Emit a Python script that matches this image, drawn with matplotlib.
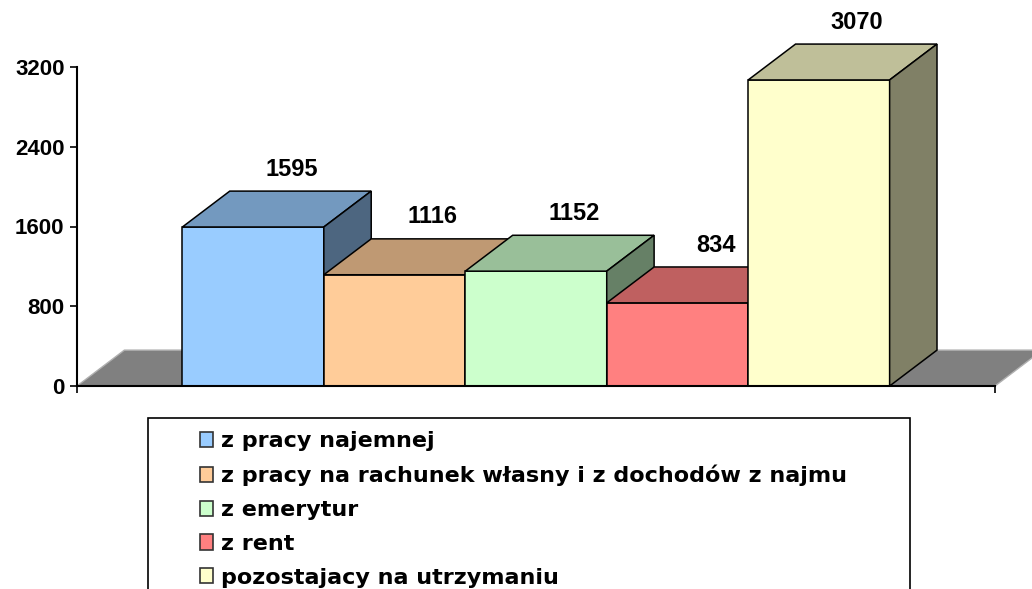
import matplotlib
matplotlib.use('Agg')
import matplotlib.pyplot as plt
from matplotlib.patches import Polygon, Rectangle, Patch

matplotlib.rcParams['font.family'] = ['Liberation Sans', 'DejaVu Sans']
matplotlib.rcParams['font.weight'] = 'bold'

# data
categories = ['z pracy najemnej',
              'z pracy na rachunek własny i z dochodów z najmu',
              'z emerytur',
              'z rent',
              'pozostajacy na utrzymaniu']
values = [1595, 1116, 1152, 834, 3070]
yticks = [0, 800, 1600, 2400, 3200]

front_colors = ['#99CCFF', '#FFCC99', '#CCFFCC', '#FF8080', '#FFFFCC']
top_colors = ['#7399BF', '#BF9973', '#99BF99', '#BF6060', '#BFBF99']
side_colors = ['#4D6680', '#806650', '#668066', '#804040', '#808066']

# 3d look: depth offset in data units
dx, dy = 0.335, 360
xmin, xmax = -1.245, 5.245
lw = 1.1

W, H = 1032, 589
fig = plt.figure(figsize=(W/100, H/100), dpi=100)
fig.patch.set_facecolor('white')
ax = fig.add_axes([77/W, (H-386)/H, (995-77)/W, (386-67)/H])

# floor
floor = Polygon([(xmin, 0), (xmax, 0), (xmax+dx, dy), (xmin+dx, dy)],
                closed=True, facecolor='#808080', edgecolor='none', zorder=1, clip_on=False)
ax.add_patch(floor)
ax.plot([xmin, xmin+dx, xmax+dx], [0, dy, dy], color='#B0B0B0', lw=1.0, zorder=1.5, clip_on=False)
ax.plot([xmax, xmax+dx], [0, dy], color='#B0B0B0', lw=1.0, zorder=1.5, clip_on=False)

for i, v in enumerate(values):
    z = 3 + i
    l, r = i - 0.5, i + 0.5
    ax.bar(i, v, width=1.0, color=front_colors[i], edgecolor='black', linewidth=lw,
           zorder=z, clip_on=False)
    top = Polygon([(l, v), (r, v), (r+dx, v+dy), (l+dx, v+dy)], closed=True,
                  facecolor=top_colors[i], edgecolor='black', linewidth=lw, zorder=z, clip_on=False)
    side = Polygon([(r, 0), (r+dx, dy), (r+dx, v+dy), (r, v)], closed=True,
                   facecolor=side_colors[i], edgecolor='black', linewidth=lw, zorder=z, clip_on=False)
    ax.add_patch(top)
    ax.add_patch(side)
    ax.text(i + 0.27, v + dy + 220, str(v), ha='center', va='center',
            fontsize=17, fontweight='bold', zorder=20)

ax.set_xlim(xmin, xmax)
ax.set_ylim(0, 3200)
ax.set_yticks(yticks)
ax.set_yticklabels([str(t) for t in yticks], fontsize=16, fontweight='bold')
ax.set_xticks([xmin, xmax])
ax.set_xticklabels(['', ''])
ax.tick_params(axis='both', direction='out', length=5, width=1.2, colors='black')
ax.tick_params(axis='y', pad=4)
for s in ['top', 'right']:
    ax.spines[s].set_visible(False)
for s in ['left', 'bottom']:
    ax.spines[s].set_linewidth(1.5)
    ax.spines[s].set_zorder(30)
ax.patch.set_visible(False)

# legend
fig.patches.append(Rectangle((148/W, -0.05), (910-148)/W, (H-418)/H + 0.05,
                             transform=fig.transFigure, facecolor='white',
                             edgecolor='black', linewidth=1.2, zorder=0))
handles = [Patch(facecolor=c, edgecolor='#333333', linewidth=1.2) for c in front_colors]
leg = fig.legend(handles, categories, loc='upper left',
                 bbox_to_anchor=(200/W, (H-431)/H), frameon=False,
                 prop={'family': 'DejaVu Sans', 'weight': 'bold', 'size': 16},
                 handlelength=0.58, handleheight=0.68, handletextpad=0.35,
                 labelspacing=0.62, borderpad=0, borderaxespad=0)

plt.savefig('out.png', dpi=100)
